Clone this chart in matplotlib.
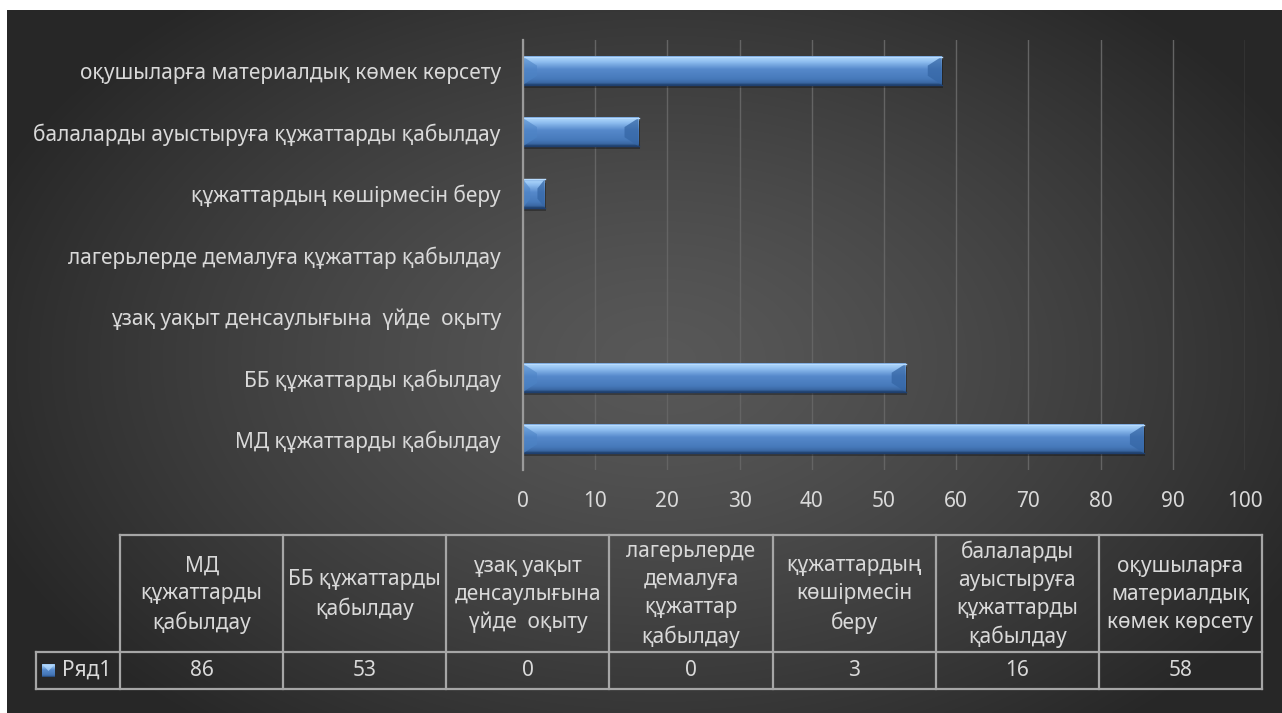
import matplotlib.pyplot as plt
import numpy as np
from matplotlib.patches import Polygon, Rectangle
from matplotlib.colors import LinearSegmentedColormap

plt.rcParams['font.family'] = ['Noto Sans', 'DejaVu Sans']

# data (bottom to top in the chart, left to right in the table)
categories = [
    "МД құжаттарды қабылдау",
    "ББ құжаттарды қабылдау",
    "ұзақ уақыт денсаулығына  үйде  оқыту",
    "лагерьлерде демалуға құжаттар қабылдау",
    "құжаттардың көшірмесін беру",
    "балаларды ауыстыруға құжаттарды қабылдау",
    "оқушыларға материалдық көмек көрсету",
]
table_headers = [
    "МД\nқұжаттарды\nқабылдау",
    "ББ құжаттарды\nқабылдау",
    "ұзақ уақыт\nденсаулығына\nүйде  оқыту",
    "лагерьлерде\nдемалуға\nқұжаттар\nқабылдау",
    "құжаттардың\nкөшірмесін\nберу",
    "балаларды\nауыстыруға\nқұжаттарды\nқабылдау",
    "оқушыларға\nматериалдық\nкөмек көрсету",
]
values = [86, 53, 0, 0, 3, 16, 58]
series_name = "Ряд1"
x_ticks = [0, 10, 20, 30, 40, 50, 60, 70, 80, 90, 100]

W, H = 1282, 713
TXT = '#d9d9d9'
FS = 15

fig = plt.figure(figsize=(W / 100, H / 100), dpi=100)
fig.patch.set_facecolor('white')

# background panel with radial gradient
bg = fig.add_axes([7 / W, 0, 1 - 7 / W, 1 - 10 / H])
bg.set_axis_off()
yy, xx = np.mgrid[10:H, 7:W]
r = np.sqrt(((xx - 660) / 720.0) ** 2 + ((yy - 360) / 470.0) ** 2)
r = np.clip(r, 0, 1)
shade = 0.345 - 0.19 * r ** 1.3
bg.imshow(np.dstack([shade] * 3), aspect='auto', extent=[0, 1, 0, 1])
bg.set_xlim(0, 1)
bg.set_ylim(0, 1)

# main bar axes
ax = fig.add_axes([523 / W, (H - 470) / H, (1245 - 523) / W, 430 / H])
ax.set_facecolor('none')
ypos = np.arange(len(categories))
bar_h = 0.46

grad = LinearSegmentedColormap.from_list('bar', [
    (0.0, '#6d9fd8'), (0.08, '#a6d0f8'), (0.22, '#88b8ec'),
    (0.45, '#5689cb'), (0.8, '#4679ba'), (0.93, '#3a67a3'), (1.0, '#22436f')])
gimg = np.linspace(0, 1, 64).reshape(-1, 1)

px_per_unit = (1245 - 523) / 100.0
bars = ax.barh(ypos, values, height=bar_h, color='none', zorder=3)
for b, v in zip(bars, values):
    if v <= 0:
        continue
    y0, y1 = b.get_y(), b.get_y() + b.get_height()
    # soft shadow
    sh = Rectangle((0.15, y0 - 0.05), v, bar_h, color='black', alpha=0.3, lw=0, zorder=2)
    ax.add_patch(sh)
    ax.imshow(gimg, cmap=grad, aspect='auto', extent=[0, v, y0, y1],
              origin='upper', zorder=3, interpolation='bilinear')
    bev = min(14 / px_per_unit, v / 3)
    hb = bar_h * 0.32
    ax.add_patch(Polygon([(0, y1), (bev, y1 - hb), (bev, y0 + hb), (0, y0)],
                         closed=True, color='#4d84c6', alpha=0.6, lw=0, zorder=4))
    ax.add_patch(Polygon([(v, y1), (v - bev, y1 - hb), (v - bev, y0 + hb), (v, y0)],
                         closed=True, color='#3566a5', alpha=0.75, lw=0, zorder=4))
    ax.plot([0, v], [y1, y1], color='#b8dcff', lw=1, zorder=5)
    ax.plot([0, v], [y0, y0], color='#1f3f6e', lw=1, zorder=5)

ax.set_xlim(0, 100)
ax.set_ylim(-0.5, len(categories) - 0.5)
ax.set_xticks(x_ticks)
ax.set_yticks(ypos)
ax.set_yticklabels(categories)
ax.grid(axis='x', color='#646464', lw=1, zorder=0)
ax.set_axisbelow(True)
for s in ['top', 'right', 'bottom']:
    ax.spines[s].set_visible(False)
ax.spines['left'].set_color('#9a9a9a')
ax.spines['left'].set_linewidth(1.6)
ax.spines['left'].set_zorder(6)
ax.tick_params(axis='x', length=0, pad=15, labelsize=FS, labelcolor=TXT)
ax.tick_params(axis='y', length=0, pad=16, labelsize=FS, labelcolor=TXT)

# data table below the chart (pixel coordinates)
tb = fig.add_axes([0, 0, 1, 1])
tb.set_axis_off()
tb.set_xlim(0, W)
tb.set_ylim(H, 0)
cols = np.linspace(120, 1262, len(values) + 1)
y_top, y_mid, y_bot = 535, 652, 689
x_leg = 36
lc = '#a6a6a6'
lw = 1.6
tb.plot([cols[0], cols[-1]], [y_top, y_top], color=lc, lw=lw)
tb.plot([x_leg, cols[-1]], [y_mid, y_mid], color=lc, lw=lw)
tb.plot([x_leg, cols[-1]], [y_bot, y_bot], color=lc, lw=lw)
tb.plot([x_leg, x_leg], [y_mid, y_bot], color=lc, lw=lw)
for i, c in enumerate(cols):
    tb.plot([c, c], [y_top, y_bot], color=lc, lw=lw)
for i, (hdr, v) in enumerate(zip(table_headers, values)):
    cx = (cols[i] + cols[i + 1]) / 2
    tb.text(cx, (y_top + y_mid) / 2 + 1, hdr, ha='center', va='center', fontsize=FS,
            color=TXT, linespacing=1.42)
    tb.text(cx, (y_mid + y_bot) / 2, str(v), ha='center', va='center', fontsize=FS, color=TXT)

# legend key
key = np.linspace(0, 1, 32).reshape(-1, 1)
tb.imshow(key, cmap=grad, extent=[42, 55, 677, 664], aspect='auto', zorder=5)
tb.add_patch(Polygon([(42, 664), (55, 664), (48.5, 671)], closed=True, color='#b8dcff',
                     alpha=0.7, lw=0, zorder=6))
tb.text(62, (y_mid + y_bot) / 2, series_name, ha='left', va='center', fontsize=FS, color=TXT)
tb.set_xlim(0, W)
tb.set_ylim(H, 0)

fig.savefig('out.png', dpi=100, facecolor=fig.get_facecolor())
